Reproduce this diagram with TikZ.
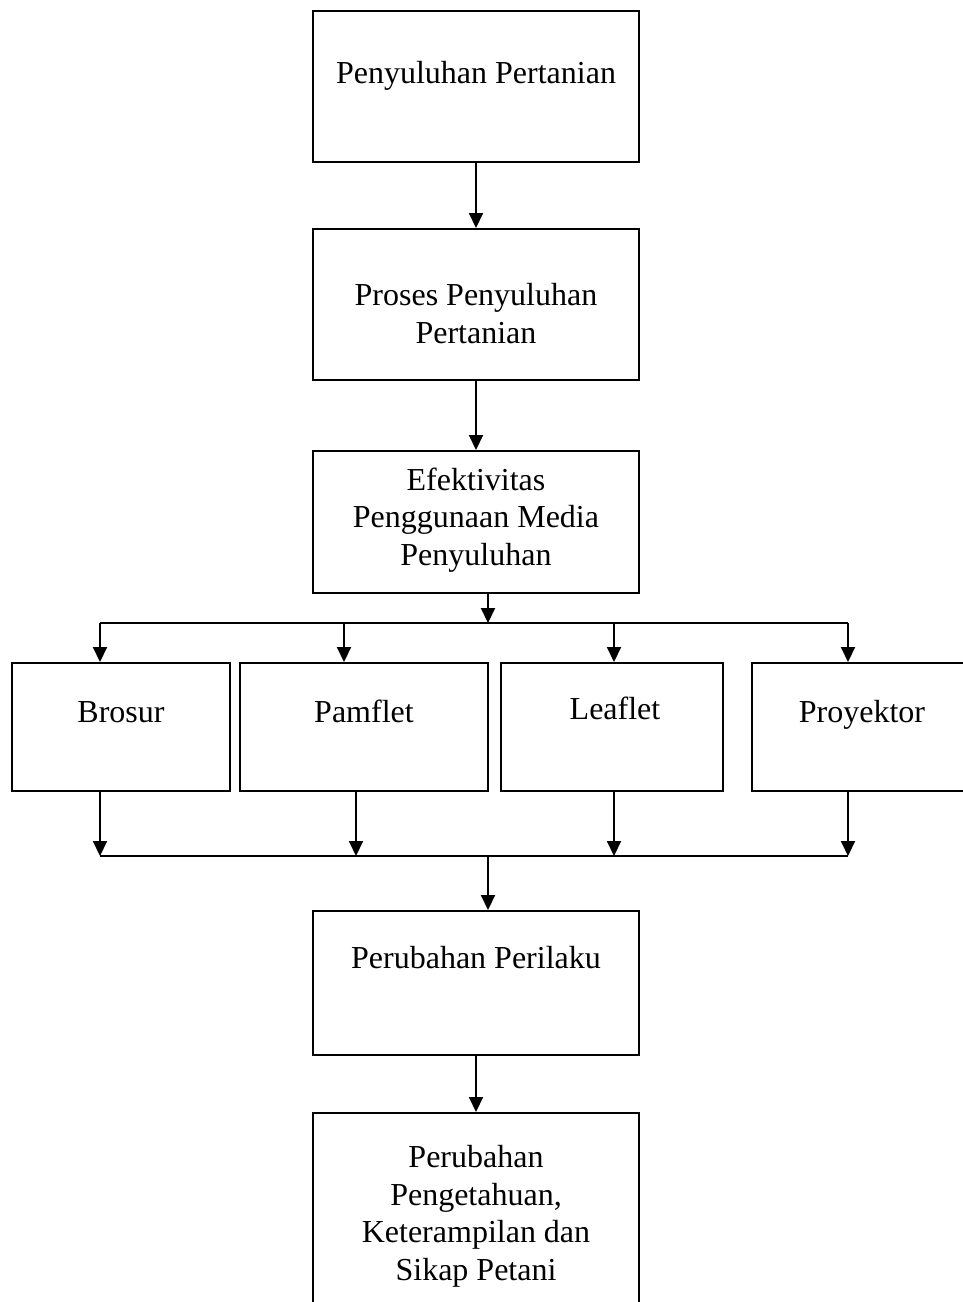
\documentclass[tikz,border=0pt]{standalone}
\usepackage{fontspec}
\setmainfont{Liberation Serif}
\usetikzlibrary{arrows.meta}

\begin{document}
\begin{tikzpicture}[x=0.5pt,y=-0.5pt,>={Triangle[length=7.5pt,width=7pt]},
	kotak/.style={draw,line width=1pt,inner sep=0pt},
	teks/.style={align=center,inner sep=0pt,anchor=base,font=\fontsize{16}{18.75}\selectfont},
	garis/.style={line width=1pt},
	panah/.style={line width=1pt,->}]
	\useasboundingbox (0,0) rectangle (963,1302);
	\clip (0,0) rectangle (963,1302);
	%
	\node[kotak,minimum width=163pt,minimum height=75.5pt] (penyuluhan) at (476,86.5) {};
	\node[kotak,minimum width=163pt,minimum height=75.5pt] (proses) at (476,304.5) {};
	\node[kotak,minimum width=163pt,minimum height=71pt] (efektivitas) at (476,522) {};
	\node[kotak,minimum width=109pt,minimum height=64pt] (brosur) at (121,727) {};
	\node[kotak,minimum width=124pt,minimum height=64pt] (pamflet) at (364,727) {};
	\node[kotak,minimum width=111pt,minimum height=64pt] (leaflet) at (612,727) {};
	\node[kotak,minimum width=111pt,minimum height=64pt] (proyektor) at (863,727) {};
	\node[kotak,minimum width=163pt,minimum height=72pt] (perilaku) at (476,983) {};
	\node[kotak,minimum width=163pt,minimum height=101pt] (petani) at (476,1214) {};
	%
	\node[teks] (tpenyuluhan) at (476,83) {Penyuluhan Pertanian};
	\node[teks] (tproses) at (476,343) {Proses Penyuluhan\\Pertanian};
	\node[teks] (tefektivitas) at (476,565) {Efektivitas\\Penggunaan Media\\Penyuluhan};
	\node[teks] (tbrosur) at (121,722) {Brosur};
	\node[teks] (tpamflet) at (364,722) {Pamflet};
	\node[teks] (tleaflet) at (615,719) {Leaflet};
	\node[teks] (tproyektor) at (862,722) {Proyektor};
	\node[teks] (tperilaku) at (476,968) {Perubahan Perilaku};
	\node[teks] (tpetani) at (476,1280) {Perubahan\\Pengetahuan,\\Keterampilan dan\\Sikap Petani};
	%
	\coordinate (cabang) at (488,623);
	\coordinate (gabung) at (488,856);
	%
	\draw[panah] (penyuluhan) -- (proses);
	\draw[panah] (proses) -- (efektivitas);
	\draw[panah] (efektivitas.south -| cabang) -- (cabang);
	\draw[garis] (cabang -| 100,0) -- (cabang -| 848,0);
	\foreach \m/\xa/\xb in {brosur/100/100,pamflet/344/356,leaflet/614/614,proyektor/848/848}{
		\draw[panah] (cabang -| \xa,0) -- (\m.north -| \xa,0);
		\draw[panah] (\m.south -| \xb,0) -- (gabung -| \xb,0);
	}
	\draw[garis] (gabung -| 100,0) -- (gabung -| 848,0);
	\draw[panah] (gabung) -- (gabung |- perilaku.north);
	\draw[panah] (perilaku) -- (petani);
\end{tikzpicture}
\end{document}
